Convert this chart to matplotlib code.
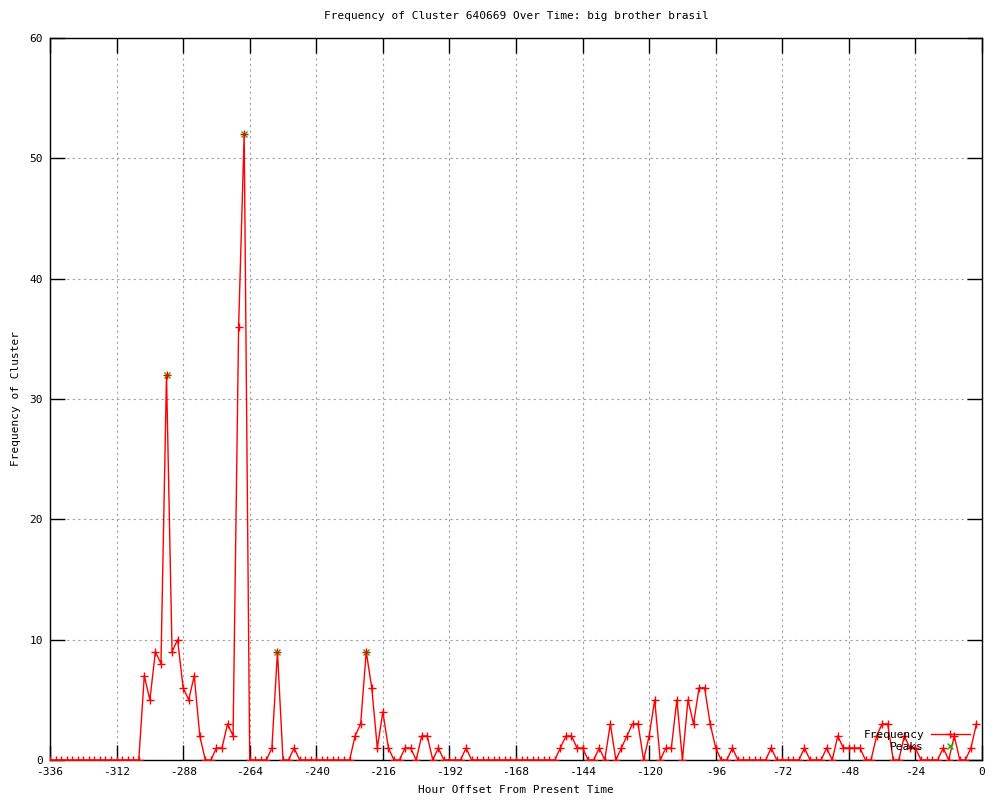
import matplotlib
matplotlib.use("Agg")
import matplotlib.pyplot as plt
import numpy as np

# Hours before present, one sample every 2 hours
hours = np.arange(-336, 0, 2)

# Frequency of the cluster for each sample
freq = [
    # -336 .. -304
    0, 0, 0, 0, 0, 0, 0, 0, 0, 0, 0, 0, 0, 0, 0, 0, 0,
    # -302 .. -264
    7, 5, 9, 8, 32, 9, 10, 6, 5, 7, 2, 0, 0, 1, 1, 3, 2, 36, 52, 0,
    # -262 .. -228
    0, 0, 0, 1, 9, 0, 0, 1, 0, 0, 0, 0, 0, 0, 0, 0, 0, 0,
    # -226 .. -186
    2, 3, 9, 6, 1, 4, 1, 0, 0, 1, 1, 0, 2, 2, 0, 1, 0, 0, 0, 0, 1,
    # -184 .. -154
    0, 0, 0, 0, 0, 0, 0, 0, 0, 0, 0, 0, 0, 0, 0, 0,
    # -152 .. -90
    1, 2, 2, 1, 1, 0, 0, 1, 0, 3, 0, 1, 2, 3, 3, 0, 2, 5, 0, 1, 1, 5, 0, 5,
    3, 6, 6, 3, 1, 0, 0, 1,
    # -88 .. -42
    0, 0, 0, 0, 0, 0, 1, 0, 0, 0, 0, 0, 1, 0, 0, 0, 1, 0, 2, 1, 1, 1, 1, 0,
    # -40 .. -2
    0, 2, 3, 3, 0, 0, 2, 1, 1, 0, 0, 0, 0, 1, 0, 2, 0, 0, 1, 3,
]

# Detected peaks
peak_hours = [-294, -266, -254, -222]
peak_values = [32, 52, 9, 9]

x_ticks = np.arange(-336, 1, 24)
y_ticks = np.arange(0, 61, 10)

plt.rcParams['font.family'] = ['DejaVu Sans Mono']
plt.rcParams['font.size'] = 8
plt.rcParams['axes.unicode_minus'] = False

fig = plt.figure(figsize=(10, 8), dpi=100)
ax = fig.add_axes([0.05, 0.05, 0.932, 0.9025])

ax.plot(hours, freq, color='red', linewidth=1.0, marker='+', markersize=6,
        markeredgewidth=1.0, label='Frequency', zorder=3)
ax.plot(peak_hours, peak_values, linestyle='none', color='#00c000', marker='x',
        markersize=4.5, markeredgewidth=1.0, label='Peaks', zorder=2)

ax.set_xlim(-336, 0)
ax.set_ylim(0, 60)
ax.set_xticks(x_ticks)
ax.set_yticks(y_ticks)
ax.tick_params(direction='in', length=11, width=1, top=True, right=True,
               labelsize=8, pad=5)
ax.grid(True, color='#a0a0a0', linestyle=(0, (2, 3)), linewidth=0.8)
ax.set_axisbelow(True)
for s in ax.spines.values():
    s.set_linewidth(1.0)

ax.set_title('Frequency of Cluster 640669 Over Time: big brother brasil',
             fontsize=8, pad=14)
ax.set_xlabel('Hour Offset From Present Time', fontsize=8, labelpad=6)
ax.set_ylabel('Frequency of Cluster', fontsize=8, labelpad=6)

ax.legend(loc='lower right', bbox_to_anchor=(0.995, 0.0), frameon=False,
          markerfirst=False, handlelength=3.5, handletextpad=0.6,
          labelspacing=0.2, fontsize=8, borderaxespad=0.3)

plt.savefig('out.png', dpi=100)
